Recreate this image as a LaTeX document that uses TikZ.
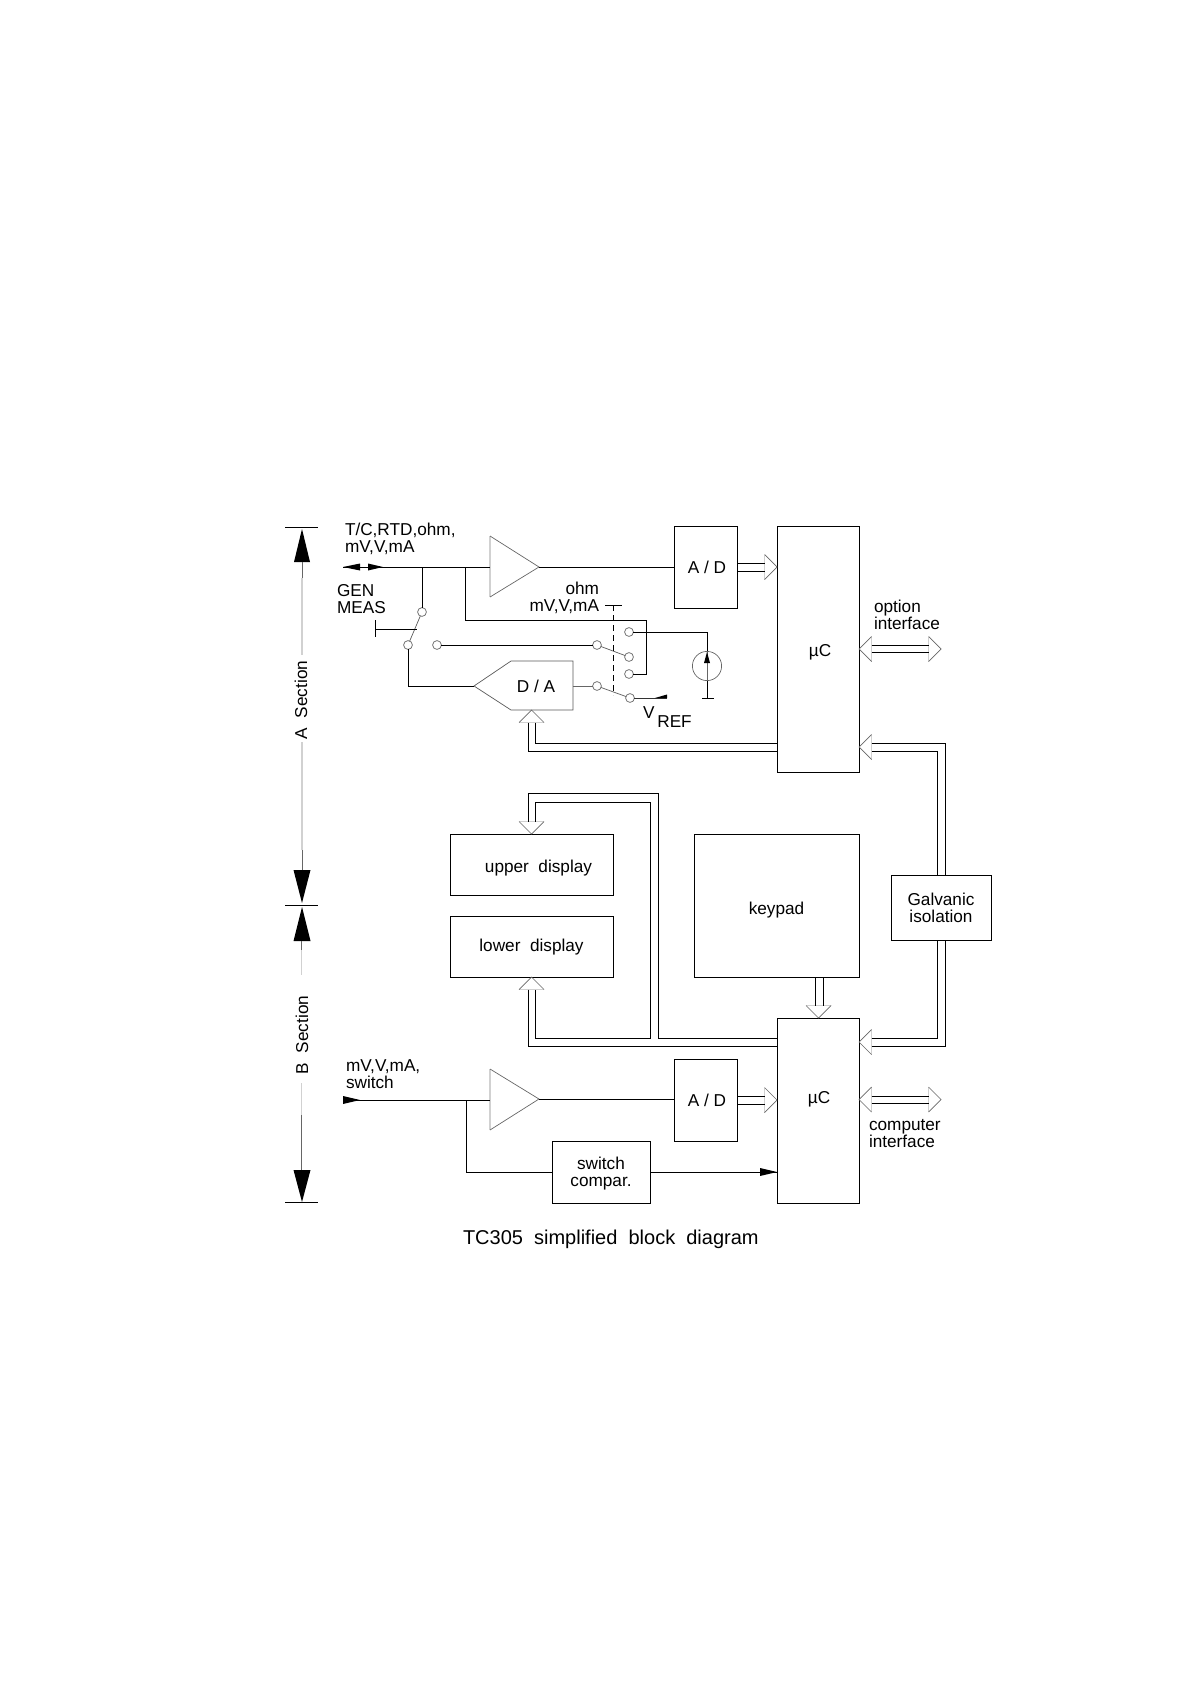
\documentclass[tikz,border=0pt]{standalone}
\usepackage{fontspec}
\setmainfont{Liberation Sans}
\usetikzlibrary{calc}
\newcommand{\lowerby}[2]{\raisebox{-#1}[\height][\depth]{#2}}
\tikzset{
  x=0.5pt,y=-0.5pt,
  wire/.style={line width=0.5pt,draw=black,line join=miter},
  thinw/.style={line width=0.35pt,draw=black!60},
  palew/.style={line width=0.7pt,draw=black!18},
  blade/.style={line width=0.35pt,draw=black!65},
  box/.style={draw=black,line width=0.5pt,rectangle,inner sep=0pt,outer sep=0pt,font=\fontsize{8.6}{8.5}\selectfont,align=center},
  txt/.style={inner sep=0pt,outer sep=0pt,font=\fontsize{8.6}{8.5}\selectfont},
  contact/.style={circle,draw=black!60,line width=0.35pt,inner sep=0pt,minimum size=4.4pt,outer sep=0pt},
  pics/hollow/.style={code={
    \draw[palew] (-12.5,-12.5)--(-12.5,12.5);
    \draw[thinw] (-12.5,-12.5)--(0,0)--(-12.5,12.5);
  }},
  pics/solid/.style 2 args={code={\fill[black] (0,0)--(-#1,-#2)--(-#1,#2)--cycle;}},
}
\begin{document}
\begin{tikzpicture}
\useasboundingbox (0,0) rectangle (1191,1685);
% blocks
\node[box,minimum width=31.5pt,minimum height=41pt] (ad1) at (705.5,567) {\hspace*{1.5pt}A / D};
\node[box,minimum width=41pt,minimum height=123pt] (mcA) at (818,649) {\hspace*{2pt}\lowerby{1.6pt}{µC}};
\node[box,minimum width=41pt,minimum height=92.5pt] (mcB) at (818,1110.5) {};
\node[txt] (mcBt) at (819,1099) {µC};
\node[box,minimum width=31.5pt,minimum height=41pt] (ad2) at (705.5,1100) {\hspace*{1.5pt}A / D};
\node[box,minimum width=81.5pt,minimum height=30.5pt] (upper) at (531.5,864.5) {\hspace*{7pt}\lowerby{1.6pt}{upper~~display}};
\node[box,minimum width=81.5pt,minimum height=30.5pt] (lower) at (531.5,946.5) {\lowerby{0.5pt}{lower~~display}};
\node[box,minimum width=82.5pt,minimum height=71.5pt] (keypad) at (776.5,905.5) {\lowerby{2.1pt}{keypad}};
\node[box,minimum width=50pt,minimum height=32.5pt] (galv) at (941,907.5) {Galvanic\\isolation};
\node[box,minimum width=49pt,minimum height=31pt] (swc) at (601,1172) {};
\node[txt,align=center,anchor=base] (swct) at (601,1186) {switch\\compar.};
% amplifiers
\coordinate (a1t) at (490,536); \coordinate (a1b) at (490,597); \coordinate (a1o) at (539,567); \coordinate (a1i) at (490,567);
\coordinate (a2t) at (490,1069); \coordinate (a2b) at (490,1130); \coordinate (a2o) at (539,1099); \coordinate (a2i) at (490,1100);
\draw[palew] (a1t)--(a1b); \draw[thinw] (a1t)--(a1o)--(a1b);
\draw[palew] (a2t)--(a2b); \draw[thinw] (a2t)--(a2o)--(a2b);
% D/A
\coordinate (daT) at (474,686); \coordinate (daO) at (573,686);
\draw[blade] (daT)--(511,661)--(573,661)--(573,710)--(511,710)--cycle;
\node[txt] (datxt) at (536,686) {D / A};
% contacts
\node[contact] (s1) at (422,612) {};
\node[contact] (s2) at (408,645) {};
\node[contact] (s3) at (437,645) {};
\node[contact] (k1) at (597,645) {};
\node[contact] (k2) at (597,686) {};
\node[contact] (r1) at (629,632) {};
\node[contact] (r2) at (629,657) {};
\node[contact] (r3) at (629,674) {};
\node[contact] (r4) at (630,698) {};
\node[circle,draw=black!60,line width=0.35pt,inner sep=0pt,minimum size=14.6pt,outer sep=0pt] (src) at (707,666) {};
\draw[blade] (s1)--(s2); \draw[blade] (k1)--(r2); \draw[blade] (k2)--(r4);
% top signal chain
\coordinate (inA) at (343,567); \coordinate (tap1) at (422,567); \coordinate (tap2) at (465,567);
\draw[wire] (inA)--(a1i);
\draw[wire] (a1o)--(ad1.west);
\pic[rotate=180] at (inA) {solid={17}{3.5}};
\coordinate (inA2) at (383,567); \pic at (inA2) {solid={15}{3.5}};
\draw[wire] (tap1)--(s1);
\coordinate (t2c) at (646,620);
\draw[wire] (tap2) |- (t2c) |- (r3);
\draw[wire] (s2) |- (daT);
\draw[wire] (s3)--(k1);
\draw[thinw] (daO)--(k2);
\draw[wire] (r1) -| (src.north);
\coordinate (gnd) at (707,698);
\draw[wire] (src.south)--(gnd);
\coordinate (g1) at (702,698); \coordinate (g2) at (714,698);
\draw[wire] (g1)--(g2);
\draw[thinw] (src.north)--(src.south);
\coordinate (srcA) at (707,652); \pic[rotate=90] at (srcA) {solid={11}{3}};
\coordinate (vr) at (667,698);
\draw[thinw,draw=black!80] (r4)--(vr);
\fill[black] (vr)--(655,698)--(667,694.5)--cycle;
\coordinate (c1) at (375,629); \coordinate (c2) at (417,629);
\draw[wire] (c1)--(c2); \draw[wire] (375,620)--(375,637);
\coordinate (d1) at (613,605); \coordinate (d2) at (613,695);
\draw[line width=0.5pt,dash pattern=on 3pt off 2pt] (d1)--(d2);
\draw[wire] (605,605)--(622,605);
% hollow heads and buses
\coordinate (hA) at (777,567); \pic at (hA) {hollow};
\draw[wire] ([shift={(0,-4)}]ad1.east)--([shift={(-12.5,-4)}]hA);
\draw[wire] ([shift={(0,4)}]ad1.east)--([shift={(-12.5,4)}]hA);
\coordinate (hOa) at (859,649); \coordinate (hOb) at (941,649);
\pic[rotate=180] at (hOa) {hollow}; \pic at (hOb) {hollow};
\draw[wire] ([shift={(12.5,-3.5)}]hOa)--([shift={(-12.5,-3.5)}]hOb);
\draw[wire] ([shift={(12.5,3.5)}]hOa)--([shift={(-12.5,3.5)}]hOb);
\coordinate (hE) at (859,747); \pic[rotate=180] at (hE) {hollow};
\draw[wire] ([shift={(12.5,-4)}]hE) -| ([xshift=2pt]galv.north);
\draw[wire] ([shift={(12.5,4)}]hE) -| ([xshift=-1.75pt]galv.north);
\coordinate (hF) at (859,1042); \pic[rotate=180] at (hF) {hollow};
\draw[wire] ([shift={(12.5,-4)}]hF) -| ([xshift=-1.75pt]galv.south);
\draw[wire] ([shift={(12.5,4)}]hF) -| ([xshift=2pt]galv.south);
\coordinate (hK) at (818.5,1018); \pic[rotate=-90] at (hK) {hollow};
\coordinate (kl) at (815,977); \coordinate (kr) at (823,977);
\draw[wire] (kl)--([shift={(-3.5,-12.5)}]hK);
\draw[wire] (kr)--([shift={(4.5,-12.5)}]hK);
\coordinate (hD) at (531.5,710); \pic[rotate=90] at (hD) {hollow};
\coordinate (maT) at (777,743); \coordinate (maB) at (777,751);
\draw[wire] ([shift={(-3.5,12.5)}]hD) |- (maB);
\draw[wire] ([shift={(3.5,12.5)}]hD) |- (maT);
\coordinate (hU) at (531.5,834); \pic[rotate=-90] at (hU) {hollow};
\coordinate (hL) at (531.5,977); \pic[rotate=90] at (hL) {hollow};
\coordinate (uo) at (658,793); \coordinate (ui) at (650,802);
\coordinate (mbT) at (777,1038); \coordinate (mbB) at (777,1046); \coordinate (lb) at (535,1038);
\draw[wire] ([shift={(-3.5,-12.5)}]hU) |- (uo) |- (mbT);
\draw[wire] ([shift={(3.5,-12.5)}]hU) |- (ui) |- (lb) -- ([shift={(3.5,12.5)}]hL);
\draw[wire] ([shift={(-3.5,12.5)}]hL) |- (mbB);
% lower signal chain
\coordinate (inB) at (343,1100); \coordinate (tap3) at (466,1100);
\coordinate (inBt) at (360,1100); \pic at (inBt) {solid={17}{4}};
\draw[wire] (inB)--(a2i);
\draw[wire] (a2o)--(ad2.west|-a2o);
\draw[wire] (tap3) |- (swc.west);
\coordinate (swo) at (650,1172); \coordinate (swi) at (777,1172);
\draw[wire] (swo)--(swi); \pic at (swi) {solid={17}{4}};
\coordinate (hB) at (777,1100); \pic at (hB) {hollow};
\draw[wire] ([shift={(0,-4)}]ad2.east)--([shift={(-12.5,-4)}]hB);
\draw[wire] ([shift={(0,4)}]ad2.east)--([shift={(-12.5,4)}]hB);
\coordinate (hCa) at (859,1099.5); \coordinate (hCb) at (941,1099.5);
\pic[rotate=180] at (hCa) {hollow}; \pic at (hCb) {hollow};
\draw[wire] ([shift={(12.5,-3.5)}]hCa)--([shift={(-12.5,-3.5)}]hCb);
\draw[wire] ([shift={(12.5,3.5)}]hCa)--([shift={(-12.5,3.5)}]hCb);
% section dimension lines
\coordinate (t1a) at (285,527); \coordinate (t1b) at (318,527);
\coordinate (t2a) at (285,905); \coordinate (t2b) at (318,905);
\coordinate (t3a) at (285,1202); \coordinate (t3b) at (318,1202);
\draw[wire] (t1a)--(t1b); \draw[wire] (t2a)--(t2b); \draw[wire] (t3a)--(t3b);
\coordinate (p1) at (302,529); \pic[rotate=90] at (p1) {solid={33}{8}};
\coordinate (p2) at (302,903); \pic[rotate=-90] at (p2) {solid={33}{8.5}};
\coordinate (p3) at (302,907); \pic[rotate=90] at (p3) {solid={34}{8.5}};
\coordinate (p4) at (302,1202); \pic[rotate=-90] at (p4) {solid={32}{8.5}};
\draw[thinw] (302,562)--(302,578); \draw[palew] (302,578)--(302,655);
\draw[palew] (302,742)--(302,850); \draw[thinw] (302,850)--(302,870);
\draw[thinw] (301.5,941)--(301.5,950); \draw[palew] (301.5,950)--(301.5,975);
\draw[palew] (301.5,1083)--(301.5,1115); \draw[thinw] (301.5,1115)--(301.5,1170);
% labels
\node[txt,rotate=90,anchor=base] (secA) at (307,700) {A~~Section};
\node[txt,rotate=90,anchor=base] (secB) at (308,1035) {B~~Section};
\node[txt,anchor=base west,align=left] (lin) at (345,552) {T/C,RTD,ohm,\\mV,V,mA};
\node[txt,anchor=base west,align=left] (lgen) at (337,613) {GEN\\MEAS};
\node[txt,anchor=base east,align=right] (lohm) at (599,611) {ohm\\mV,V,mA};
\node[txt,anchor=base west] (lvref) at (643,718) {V\raisebox{-4.5pt}{\,REF}};
\node[txt,anchor=base west,align=left] (lopt) at (874,629) {option\\interface};
\node[txt,anchor=base west,align=left] (lmv) at (346,1088) {mV,V,mA,\\switch};
\node[txt,anchor=base west,align=left] (lcomp) at (869,1147) {computer\\interface};
\node[inner sep=0pt,outer sep=0pt,anchor=base west,font=\fontsize{10}{12}\selectfont] (title) at (463,1244) {TC305~~simplified~~block~~diagram};
\end{tikzpicture}
\end{document}
